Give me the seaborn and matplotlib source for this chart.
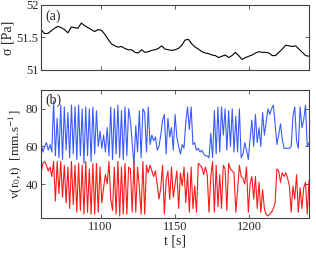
import numpy as np
import pandas as pd
import matplotlib
matplotlib.use("Agg")
import matplotlib.pyplot as plt
import seaborn as sns

# stress time series (panel a), sampled every 2.25 s
sigma_t0, sigma_dt = 1060, 2.25
sigma = [51.62, 51.56, 51.56, 51.60, 51.64, 51.67, 51.65, 51.62, 51.57, 51.66,
         51.65, 51.64, 51.72, 51.68, 51.65, 51.62, 51.59, 51.62, 51.61, 51.55,
         51.47, 51.40, 51.37, 51.35, 51.36, 51.33, 51.31, 51.31, 51.27, 51.26,
         51.31, 51.27, 51.28, 51.30, 51.31, 51.33, 51.37, 51.32, 51.31, 51.30,
         51.31, 51.33, 51.38, 51.46, 51.47, 51.40, 51.35, 51.32, 51.28, 51.26,
         51.25, 51.23, 51.22, 51.19, 51.21, 51.23, 51.19, 51.22, 51.27, 51.22,
         51.16, 51.19, 51.21, 51.23, 51.26, 51.28, 51.27, 51.27, 51.26, 51.22,
         51.22, 51.27, 51.32, 51.38, 51.37, 51.36, 51.37, 51.32, 51.27, 51.22,
         51.21]

# velocity time series (panel b), sampled every 1.2 s
v_t0, v_dt = 1060, 1.2
v_blue = [62, 57, 60, 62, 58, 61, 57, 84, 55, 75,
          54, 82, 53, 81, 58, 78, 54, 82, 56, 81,
          53, 82, 55, 80, 51, 81, 55, 80, 52, 81,
          56, 79, 60, 68, 59, 66, 57, 70, 55, 81,
          53, 80, 56, 82, 54, 79, 53, 81, 55, 80,
          74, 62, 50, 71, 57, 79, 54, 80, 78, 57,
          81, 61, 66, 63, 65, 58, 60, 66, 74, 77,
          56, 75, 65, 70, 58, 77, 65, 60, 56, 61,
          59, 73, 81, 69, 81, 61, 62, 58, 59, 57,
          58, 56, 55, 55, 54, 67, 54, 79, 56, 81,
          57, 81, 66, 80, 58, 79, 60, 80, 57, 76,
          57, 80, 54, 56, 62, 58, 53, 64, 74, 60,
          77, 62, 70, 60, 78, 66, 73, 80, 77, 80,
          82, 72, 61, 66, 72, 64, 59, 59, 59, 59,
          60, 76, 81, 63, 59, 81, 70, 74, 82, 60,
          62]
v_red = [46, 51, 52, 50, 47, 49, 44, 52, 31, 52,
         35, 52, 33, 50, 30, 49, 27, 52, 29, 50,
         25, 51, 26, 50, 24, 52, 25, 48, 24, 51,
         24, 51, 25, 49, 30, 38, 45, 40, 52, 32,
         26, 49, 24, 52, 23, 49, 24, 51, 24, 49,
         48, 25, 52, 25, 49, 38, 24, 52, 24, 50,
         46, 50, 47, 44, 47, 40, 32, 38, 50, 24,
         42, 47, 32, 49, 33, 40, 47, 27, 46, 39,
         49, 30, 46, 25, 49, 27, 39, 25, 51, 50,
         49, 45, 49, 45, 25, 44, 52, 25, 50, 28,
         45, 27, 50, 48, 26, 51, 48, 47, 46, 25,
         37, 50, 44, 43, 40, 49, 25, 40, 44, 32,
         44, 27, 41, 25, 37, 27, 24, 23, 24, 25,
         27, 30, 48, 47, 41, 46, 44, 46, 43, 39,
         25, 39, 32, 45, 25, 38, 27, 38, 41, 24,
         42]

x_ticks = [1100, 1150, 1200]

sns.set_style("ticks")
plt.rcParams["font.family"] = ["Liberation Serif", "DejaVu Serif"]
plt.rcParams["mathtext.fontset"] = "stix"

df_s = pd.DataFrame({"t": sigma_t0 + sigma_dt * np.arange(len(sigma)), "sigma": sigma})
t_v = v_t0 + v_dt * np.arange(len(v_blue))
df_v = pd.DataFrame({"t": t_v, "blue": v_blue, "red": v_red})

fig = plt.figure(figsize=(3.16, 2.57), dpi=100)
ax1 = fig.add_axes([0.130, 0.728, 0.848, 0.253])
ax2 = fig.add_axes([0.130, 0.152, 0.848, 0.498])

sns.lineplot(data=df_s, x="t", y="sigma", ax=ax1, color="black", linewidth=0.8)
sns.lineplot(data=df_v, x="t", y="blue", ax=ax2, color="#3a5cff", linewidth=0.8)
sns.lineplot(data=df_v, x="t", y="red", ax=ax2, color="#ff1a1a", linewidth=0.8)

ax1.set_xlim(1060, 1240)
ax1.set_ylim(51, 52)
ax1.set_yticks([51, 51.5, 52])
ax1.set_yticklabels(["51", "51.5", "52"])
ax1.set_xticks(x_ticks)
ax1.set_xticklabels([])
ax1.set_xlabel("")
ax1.set_ylabel("σ [Pa]", fontsize=10, labelpad=1)
ax1.text(0.015, 0.93, "(a)", transform=ax1.transAxes, fontsize=10, va="top")

ax2.set_xlim(1060, 1240)
ax2.set_ylim(22, 90)
ax2.set_yticks([40, 60, 80])
ax2.set_xticks(x_ticks)
ax2.set_xlabel("t [s]", fontsize=10, labelpad=1)
ax2.set_ylabel(r"v(r$_0$,t)  [mm.s$^{-1}$]", fontsize=9.5, labelpad=1)
ax2.text(0.015, 0.97, "(b)", transform=ax2.transAxes, fontsize=10, va="top")

for ax in (ax1, ax2):
    ax.tick_params(direction="in", top=True, right=True, length=3, width=0.6,
                   labelsize=9, pad=2, color="#404040")
    for sp in ax.spines.values():
        sp.set_color("#404040")
        sp.set_linewidth(0.8)

plt.savefig("out.png", dpi=100)
plt.close()
